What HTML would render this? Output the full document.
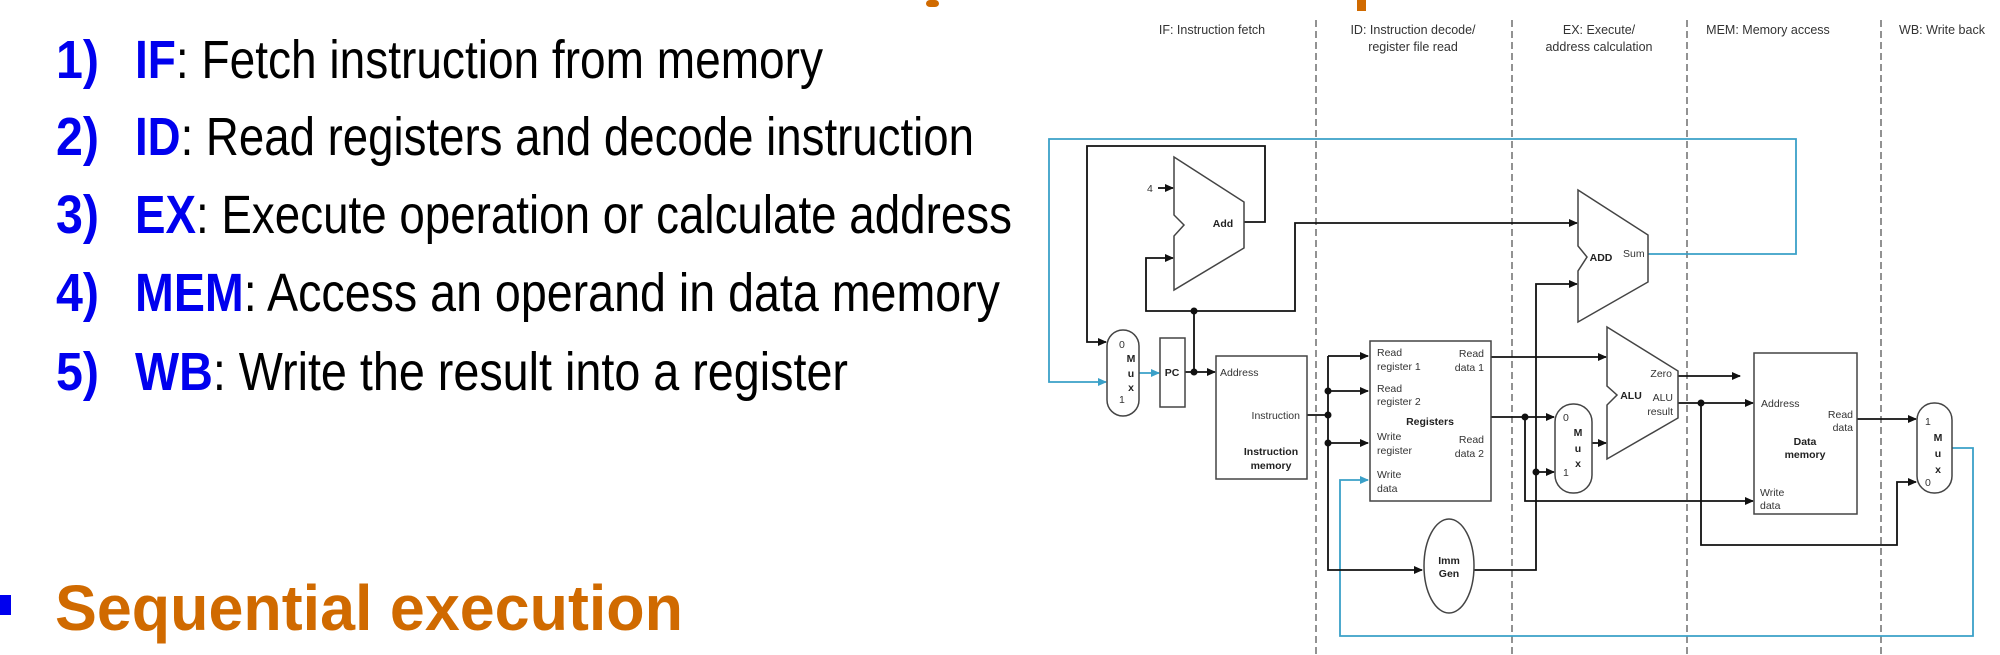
<!DOCTYPE html>
<html><head><meta charset="utf-8"><style>
html,body{margin:0;padding:0;background:#fff;}
svg{display:block;}
</style></head><body>
<svg width="2000" height="655" viewBox="0 0 2000 655" xmlns="http://www.w3.org/2000/svg" font-family="Liberation Sans, Arial, sans-serif">
<defs>
<marker id="a" markerUnits="userSpaceOnUse" markerWidth="9" markerHeight="8" refX="8" refY="4" orient="auto"><path d="M0,0 L9,4 L0,8 z" fill="#111"/></marker>
<marker id="b" markerUnits="userSpaceOnUse" markerWidth="9" markerHeight="8" refX="8" refY="4" orient="auto"><path d="M0,0 L9,4 L0,8 z" fill="#3aa0c8"/></marker>
</defs>
<!-- title fragments -->
<rect x="926" y="0" width="13" height="7" rx="4" fill="#d06a00"/>
<rect x="1357" y="0" width="9" height="11" fill="#d06a00"/>
<!-- left text -->
<g font-size="54">
<text x="56" y="78" fill="#0000ee" font-weight="bold" textLength="43" lengthAdjust="spacingAndGlyphs">1)</text>
<text x="56" y="155" fill="#0000ee" font-weight="bold" textLength="43" lengthAdjust="spacingAndGlyphs">2)</text>
<text x="56" y="233" fill="#0000ee" font-weight="bold" textLength="43" lengthAdjust="spacingAndGlyphs">3)</text>
<text x="56" y="311" fill="#0000ee" font-weight="bold" textLength="43" lengthAdjust="spacingAndGlyphs">4)</text>
<text x="56" y="390" fill="#0000ee" font-weight="bold" textLength="43" lengthAdjust="spacingAndGlyphs">5)</text>
<text x="135" y="78" textLength="688" lengthAdjust="spacingAndGlyphs"><tspan fill="#0000ee" font-weight="bold">IF</tspan>: Fetch instruction from memory</text>
<text x="135" y="155" textLength="839" lengthAdjust="spacingAndGlyphs"><tspan fill="#0000ee" font-weight="bold">ID</tspan>: Read registers and decode instruction</text>
<text x="135" y="233" textLength="877" lengthAdjust="spacingAndGlyphs"><tspan fill="#0000ee" font-weight="bold">EX</tspan>: Execute operation or calculate address</text>
<text x="135" y="311" textLength="865" lengthAdjust="spacingAndGlyphs"><tspan fill="#0000ee" font-weight="bold">MEM</tspan>: Access an operand in data memory</text>
<text x="135" y="390" textLength="713" lengthAdjust="spacingAndGlyphs"><tspan fill="#0000ee" font-weight="bold">WB</tspan>: Write the result into a register</text>
</g>
<rect x="0" y="595" width="11" height="20" fill="#0000ee"/>
<text x="55" y="630" font-size="64" font-weight="bold" fill="#d06a00" textLength="628" lengthAdjust="spacingAndGlyphs">Sequential execution</text>

<!-- stage headers -->
<g font-size="12.5" fill="#333" text-anchor="middle">
<text x="1212" y="34">IF: Instruction fetch</text>
<text x="1413" y="34">ID: Instruction decode/</text>
<text x="1413" y="51">register file read</text>
<text x="1599" y="34">EX: Execute/</text>
<text x="1599" y="51">address calculation</text>
<text x="1768" y="34">MEM: Memory access</text>
<text x="1942" y="34">WB: Write back</text>
</g>
<g stroke="#777" stroke-width="1.6" stroke-dasharray="7,4">
<line x1="1316" y1="20" x2="1316" y2="655"/>
<line x1="1512" y1="20" x2="1512" y2="655"/>
<line x1="1687" y1="20" x2="1687" y2="655"/>
<line x1="1881" y1="20" x2="1881" y2="655"/>
</g>

<!-- blue wires -->
<g fill="none" stroke="#3aa0c8" stroke-width="1.8">
<path d="M1648,254 H1796 V139 H1049 V382 H1106" marker-end="url(#b)"/>
<path d="M1139,373 H1159" marker-end="url(#b)"/>
<path d="M1952,448 H1973 V636 H1340 V480 H1368" marker-end="url(#b)"/>
</g>

<!-- black wires -->
<g fill="none" stroke="#111" stroke-width="1.8">
<path d="M1244,222 H1265 V146 H1087 V342 H1106" marker-end="url(#a)"/>
<path d="M1158,188 H1173" marker-end="url(#a)"/>
<path d="M1194,372 V311 H1146 V258 H1173" marker-end="url(#a)"/>
<path d="M1194,311 H1295 V223 H1577" marker-end="url(#a)"/>
<path d="M1185,372 H1215" marker-end="url(#a)"/>
<path d="M1307,415 H1328"/>
<path d="M1328,356 V570 H1422" marker-end="url(#a)"/>
<path d="M1328,356 H1368" marker-end="url(#a)"/>
<path d="M1328,391 H1368" marker-end="url(#a)"/>
<path d="M1328,443 H1368" marker-end="url(#a)"/>
<path d="M1474,570 H1536 V284 H1577" marker-end="url(#a)"/>
<path d="M1536,472 H1554" marker-end="url(#a)"/>
<path d="M1491,357 H1606" marker-end="url(#a)"/>
<path d="M1491,417 H1554" marker-end="url(#a)"/>
<path d="M1525,417 V501 H1753" marker-end="url(#a)"/>
<path d="M1592,443 H1606" marker-end="url(#a)"/>
<path d="M1678,376 H1740" marker-end="url(#a)"/>
<path d="M1678,403 H1753" marker-end="url(#a)"/>
<path d="M1701,403 V545 H1897 V482 H1916" marker-end="url(#a)"/>
<path d="M1857,419 H1916" marker-end="url(#a)"/>
</g>
<g fill="#111">
<circle cx="1194" cy="311" r="3.5"/><circle cx="1194" cy="372" r="3.5"/>
<circle cx="1328" cy="391" r="3.5"/><circle cx="1328" cy="415" r="3.5"/><circle cx="1328" cy="443" r="3.5"/>
<circle cx="1536" cy="472" r="3.5"/><circle cx="1525" cy="417" r="3.5"/><circle cx="1701" cy="403" r="3.5"/>
</g>

<!-- components -->
<g fill="#fff" stroke="#444" stroke-width="1.5">
<polygon points="1174,157 1244,202 1244,248 1174,290 1174,236 1184,225 1174,215"/>
<polygon points="1578,190 1648,235 1648,282 1578,322 1578,271 1587,257 1578,246"/>
<polygon points="1607,327 1678,371 1678,418 1607,459 1607,405 1617,395 1607,386"/>
<rect x="1107" y="330" width="32" height="86" rx="16"/>
<rect x="1555" y="404" width="37" height="89" rx="18"/>
<rect x="1917" y="403" width="35" height="90" rx="17"/>
<rect x="1160" y="338" width="25" height="69"/>
<rect x="1216" y="356" width="91" height="123"/>
<rect x="1370" y="341" width="121" height="160"/>
<rect x="1754" y="353" width="103" height="161"/>
<ellipse cx="1449" cy="566" rx="25" ry="47"/>
</g>

<!-- component labels -->
<g font-size="10.5" fill="#333">
<text x="1147" y="192">4</text>
<text x="1119" y="348">0</text><text x="1119" y="403">1</text>
<text x="1220" y="376">Address</text>
<text x="1300" y="419" text-anchor="end">Instruction</text>
<text x="1377" y="356">Read</text><text x="1377" y="370">register 1</text>
<text x="1484" y="357" text-anchor="end">Read</text><text x="1484" y="371" text-anchor="end">data 1</text>
<text x="1377" y="392">Read</text><text x="1377" y="405">register 2</text>
<text x="1377" y="440">Write</text><text x="1377" y="454">register</text>
<text x="1484" y="443" text-anchor="end">Read</text><text x="1484" y="457" text-anchor="end">data 2</text>
<text x="1377" y="478">Write</text><text x="1377" y="492">data</text>
<text x="1623" y="257">Sum</text>
<text x="1672" y="377" text-anchor="end">Zero</text>
<text x="1673" y="401" text-anchor="end">ALU</text><text x="1673" y="415" text-anchor="end">result</text>
<text x="1563" y="421">0</text><text x="1563" y="476">1</text>
<text x="1761" y="407">Address</text>
<text x="1853" y="418" text-anchor="end">Read</text><text x="1853" y="431" text-anchor="end">data</text>
<text x="1760" y="496">Write</text><text x="1760" y="509">data</text>
<text x="1925" y="425">1</text><text x="1925" y="486">0</text>
</g>
<g font-size="10.5" fill="#222" font-weight="bold" text-anchor="middle">
<text x="1223" y="227">Add</text>
<text x="1131" y="362">M</text><text x="1131" y="377">u</text><text x="1131" y="391">x</text>
<text x="1172" y="376">PC</text>
<text x="1271" y="455">Instruction</text><text x="1271" y="469">memory</text>
<text x="1430" y="425">Registers</text>
<text x="1449" y="564">Imm</text><text x="1449" y="577">Gen</text>
<text x="1601" y="261">ADD</text>
<text x="1631" y="399">ALU</text>
<text x="1578" y="436">M</text><text x="1578" y="452">u</text><text x="1578" y="467">x</text>
<text x="1805" y="445">Data</text><text x="1805" y="458">memory</text>
<text x="1938" y="441">M</text><text x="1938" y="457">u</text><text x="1938" y="473">x</text>
</g>
</svg>
</body></html>
